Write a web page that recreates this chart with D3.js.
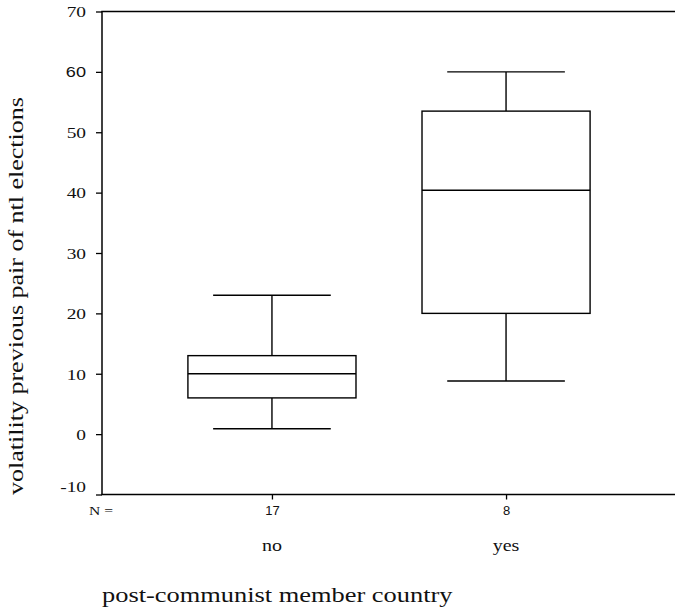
<!DOCTYPE html>
<html>
<head>
<meta charset="utf-8">
<script src="https://d3js.org/d3.v7.min.js"></script>
<style>
  body { margin: 0; background: #fff; }
  svg { display: block; }
  text { fill: #111; }
</style>
</head>
<body>
<script>
// boxplot stats
var categories = ['no', 'yes'];
var counts = [17, 8];
var whiskerLow = [0.9, 8.8];
var q1 = [6, 20];
var medians = [10, 40.4];
var q3 = [13, 53.5];
var whiskerHigh = [23, 60];
var yTicks = [-10, 0, 10, 20, 30, 40, 50, 60, 70];

var width = 675, height = 615;
var plotLeft = 102, plotTop = 11.5, plotBottom = 494.5, plotRight = 676;
var serif = 'Liberation Serif, Times New Roman, serif';

// the export is stretched sideways, so widen the glyphs a bit
function stretch(sel, k) {
    sel.each(function() {
        var w = this.getComputedTextLength();
        d3.select(this).attr('textLength', w * k).attr('lengthAdjust', 'spacingAndGlyphs');
    });
}

var svg = d3.select('body').append('svg')
    .attr('width', width).attr('height', height);

var y = d3.scaleLinear().domain([-10, 70]).range([plotBottom, plotTop]);
var x = d3.scalePoint().domain(categories).range([plotLeft, plotRight]).padding(0.726);
var boxW = x.step() * 0.718, capW = boxW * 0.7;

// axes frame: left, top, bottom
var frame = svg.append('g').attr('stroke', '#000').attr('stroke-width', 1.5).attr('fill', 'none');
frame.append('line').attr('x1', plotLeft).attr('x2', plotLeft).attr('y1', plotTop).attr('y2', plotBottom);
frame.append('line').attr('x1', plotLeft - 0.75).attr('x2', plotRight).attr('y1', plotTop).attr('y2', plotTop);
frame.append('line').attr('x1', plotLeft - 0.75).attr('x2', plotRight).attr('y1', plotBottom).attr('y2', plotBottom);

var yAxis = d3.axisLeft(y).tickValues(yTicks).tickSize(6).tickPadding(10).tickFormat(String);
var yg = svg.append('g').attr('transform', 'translate(' + plotLeft + ',0)').call(yAxis);
yg.select('.domain').remove();
yg.selectAll('.tick line').attr('stroke-width', 1.3);
yg.selectAll('.tick text')
    .attr('font-family', serif)
    .attr('font-size', 15.5)
    .attr('dy', function(d) { return d === -10 ? '-0.2em' : '0.34em'; });
// the SPSS export draws "60" in a sans face
yg.selectAll('.tick text').filter(function(d) { return d === 60; })
    .attr('font-family', 'Liberation Sans, Arial, sans-serif').attr('font-size', 14.5);
stretch(yg.selectAll('.tick text'), 1.25);

var xAxis = d3.axisBottom(x).tickSize(5).tickPadding(6).tickFormat(function(d, i) { return counts[i]; });
var xg = svg.append('g').attr('transform', 'translate(0,' + plotBottom + ')').call(xAxis);
xg.select('.domain').remove();
xg.selectAll('.tick line').attr('stroke-width', 1.3);
xg.selectAll('.tick text')
    .attr('font-family', 'Liberation Sans, Arial, sans-serif')
    .attr('font-size', 13);

svg.append('text').attr('x', 89).attr('y', 515)
    .attr('font-family', serif).attr('font-size', 12)
    .text('N =')
    .call(stretch, 1.3);

svg.selectAll('.cat').data(categories).enter().append('text')
    .attr('class', 'cat')
    .attr('x', function(d) { return x(d); })
    .attr('y', 551)
    .attr('text-anchor', 'middle')
    .attr('font-family', serif).attr('font-size', 16)
    .text(function(d) { return d; })
    .call(stretch, 1.25);

// boxes
var boxes = svg.selectAll('.box').data(categories).enter().append('g')
    .attr('class', 'box').attr('stroke', '#000').attr('stroke-width', 1.4).attr('fill', 'none');

boxes.append('line')
    .attr('x1', function(d) { return x(d); }).attr('x2', function(d) { return x(d); })
    .attr('y1', function(d, i) { return y(whiskerHigh[i]); }).attr('y2', function(d, i) { return y(q3[i]); });
boxes.append('line')
    .attr('x1', function(d) { return x(d); }).attr('x2', function(d) { return x(d); })
    .attr('y1', function(d, i) { return y(q1[i]); }).attr('y2', function(d, i) { return y(whiskerLow[i]); });
boxes.append('line')
    .attr('x1', function(d) { return x(d) - capW / 2; }).attr('x2', function(d) { return x(d) + capW / 2; })
    .attr('y1', function(d, i) { return y(whiskerHigh[i]); }).attr('y2', function(d, i) { return y(whiskerHigh[i]); });
boxes.append('line')
    .attr('x1', function(d) { return x(d) - capW / 2; }).attr('x2', function(d) { return x(d) + capW / 2; })
    .attr('y1', function(d, i) { return y(whiskerLow[i]); }).attr('y2', function(d, i) { return y(whiskerLow[i]); });
boxes.append('rect')
    .attr('x', function(d) { return x(d) - boxW / 2; })
    .attr('width', boxW)
    .attr('y', function(d, i) { return y(q3[i]); })
    .attr('height', function(d, i) { return y(q1[i]) - y(q3[i]); });
boxes.append('line')
    .attr('x1', function(d) { return x(d) - boxW / 2; }).attr('x2', function(d) { return x(d) + boxW / 2; })
    .attr('y1', function(d, i) { return y(medians[i]); }).attr('y2', function(d, i) { return y(medians[i]); });

// axis titles
svg.append('text')
    .attr('transform', 'translate(23,296) rotate(-90)')
    .attr('text-anchor', 'middle')
    .attr('font-family', serif)
    .attr('font-size', 20)
    .text('volatility previous pair of ntl elections')
    .call(stretch, 1.3);

svg.append('text')
    .attr('x', 102).attr('y', 602)
    .attr('font-family', serif)
    .attr('font-size', 20)
    .text('post-communist member country')
    .call(stretch, 1.32);
</script>
</body>
</html>
